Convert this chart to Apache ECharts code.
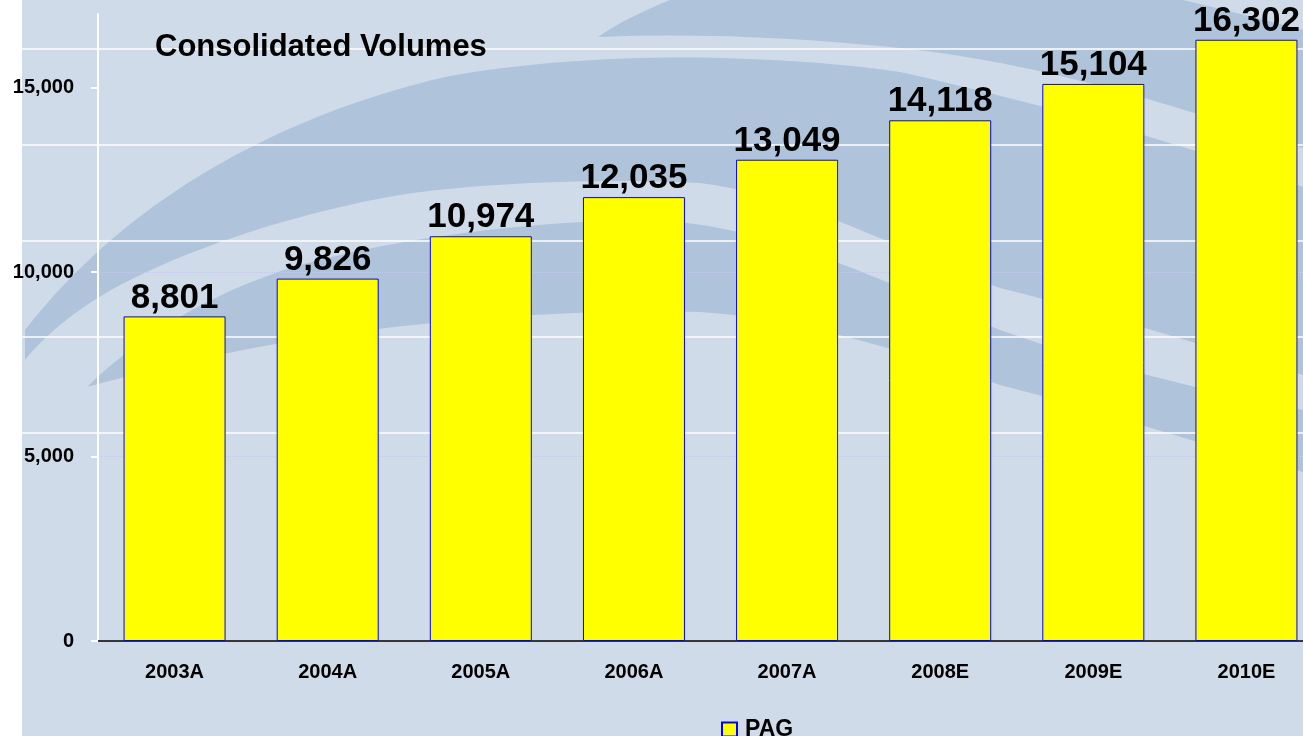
<!DOCTYPE html>
<html>
<head>
<meta charset="utf-8">
<title>Consolidated Volumes</title>
<script src="https://cdn.jsdelivr.net/npm/echarts@6/dist/echarts.min.js"></script>
<style>
  html, body { margin: 0; padding: 0; background: #ffffff; }
  #chart { width: 1303px; height: 736px; }
</style>
</head>
<body>
<div id="chart"></div>
<script>
// Fiscal years (A = actual, E = estimate)
const categories = ['2003A', '2004A', '2005A', '2006A', '2007A', '2008E', '2009E', '2010E'];
// Consolidated volumes, PAG
const volumes = [8801, 9826, 10974, 12035, 13049, 14118, 15104, 16302];
// Value-axis ticks
const yTicks = [0, 5000, 10000, 15000];
const seriesName = 'PAG';
const chartTitle = 'Consolidated Volumes';

const FONT = 'Arial, "Liberation Sans", Helvetica, sans-serif';
const BG_LIGHT = '#cfdbe8';
const BG_DARK = '#afc4da';

const fmt = v => Number(v).toLocaleString('en-US');

const chart = echarts.init(document.getElementById('chart'), null, { renderer: 'canvas' });

// Decorative slide backdrop: panel, sweeping bands and ruled lines
function drawBackdrop() {
  const bands = [
    // top-right wedge
    'M598,37 C620,22 645,10 670,0 L1183,0 C1225,10 1265,20 1303,30 L1303,148 C1200,115 1060,65 900,48 C800,38 700,33 598,37 Z',
    // wide outer sweep
    'M25,330 C60,285 110,235 170,195 C250,140 350,98 450,76 C540,60 640,56 720,58 C800,60 860,66 900,72 ' +
    'C1050,105 1200,150 1303,187 L1303,375 C1200,345 1090,310 1000,288 C900,250 800,195 700,183 ' +
    'C600,178 480,183 400,195 C300,212 200,245 130,280 C80,305 45,335 25,360 Z',
    // inner sweep
    'M87,387 C130,345 200,295 300,265 C400,238 520,222 640,220 C760,220 880,280 1000,330 ' +
    'C1100,365 1200,390 1303,410 L1303,472 C1200,445 1100,410 1000,385 C900,350 800,318 700,312 ' +
    'C580,308 440,320 330,335 C230,350 150,370 87,387 Z'
  ];
  const children = [
    { type: 'rect', shape: { x: 22, y: 0, width: 1281, height: 736 }, style: { fill: BG_LIGHT } }
  ];
  bands.forEach(d => children.push({ type: 'path', shape: { pathData: d }, style: { fill: BG_DARK } }));
  [49, 145, 241, 337, 433].forEach(y => {
    children.push({ type: 'line', shape: { x1: 22, y1: y, x2: 1303, y2: y },
      style: { stroke: '#ffffff', lineWidth: 1.5 } });
  });
  return { type: 'group', children: children };
}

const option = {
  backgroundColor: 'transparent',
  animation: false,
  title: {
    text: chartTitle,
    left: 150, top: 27,
    textStyle: { fontFamily: FONT, fontSize: 31, fontWeight: 'bold', color: '#000000' }
  },
  legend: {
    data: [seriesName],
    left: 716, top: 713,
    itemWidth: 15, itemHeight: 14, itemGap: 8,
    icon: 'rect',
    textStyle: { fontFamily: FONT, fontSize: 23, fontWeight: 'bold', color: '#000000', padding: [0, 0, 0, 3] }
  },
  // the plot runs past the right edge of the page, so the last bar's label is cut
  grid: { left: 98, width: 1225, top: 14, bottom: 95, containLabel: false, outerBoundsMode: 'none' },
  xAxis: {
    type: 'category',
    data: categories,
    axisLine: { show: true, lineStyle: { color: '#000000', width: 1.5 } },
    axisTick: { show: false },
    axisLabel: { margin: 21, fontFamily: FONT, fontSize: 20, fontWeight: 'bold', color: '#000000' },
    splitLine: { show: false }
  },
  yAxis: {
    type: 'value',
    min: 0, max: 17000, interval: 5000,
    axisLine: { show: true, lineStyle: { color: '#ffffff', width: 2 } },
    axisTick: { show: true, length: 7, customValues: yTicks, lineStyle: { color: '#ffffff', width: 2 } },
    axisLabel: {
      margin: 24, customValues: yTicks, fontFamily: FONT, fontSize: 20, fontWeight: 'bold', color: '#000000',
      padding: [3, 0, 0, 0],
      formatter: v => fmt(v)
    },
    splitLine: { show: true, showMaxLine: false, showMinLine: false, lineStyle: { color: '#c6c8f4', width: 1, type: 'dotted' } }
  },
  series: [
    {
      name: 'backdrop',
      type: 'custom',
      coordinateSystem: 'none',
      silent: true,
      z: -10,
      data: [0],
      renderItem: () => drawBackdrop()
    },
    {
      name: seriesName,
      type: 'bar',
      data: volumes,
      barWidth: 102,
      itemStyle: { color: '#ffff00', borderColor: '#0000ff', borderWidth: 1 },
      label: {
        show: true, position: 'top', distance: 1,
        fontFamily: FONT, fontSize: 35, fontWeight: 'bold', color: '#000000',
        formatter: p => fmt(p.value)
      }
    }
  ]
};

chart.setOption(option);
</script>
</body>
</html>
